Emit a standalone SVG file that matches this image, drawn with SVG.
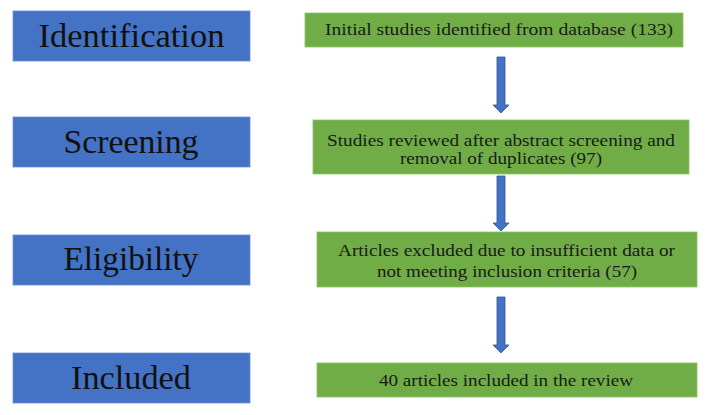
<svg xmlns="http://www.w3.org/2000/svg" width="710" height="415" viewBox="0 0 710 415">
<style>
.stage{fill:#4472C4;stroke:#6A8FD6;stroke-width:0.8}
.step{fill:#70AD47;stroke:#8CC26A;stroke-width:0.8}
.lbl{font-family:"Liberation Serif","DejaVu Serif",serif;font-size:34px;fill:#111;text-anchor:middle}
.txt{font-family:"Liberation Serif","DejaVu Serif",serif;font-size:16.5px;fill:#1a1a1a;text-anchor:middle}
.arrow{fill:#4472C4;stroke:#2F5597;stroke-width:0.8}
</style>
<rect width="710" height="415" fill="#fff"/>
<g id="identification"><rect class="stage" x="13" y="11" width="237" height="50"/><text class="lbl" x="131.5" y="47" textLength="186" lengthAdjust="spacingAndGlyphs">Identification</text></g>
<g id="screening"><rect class="stage" x="13" y="117" width="237" height="50"/><text class="lbl" x="131" y="153" textLength="135" lengthAdjust="spacingAndGlyphs">Screening</text></g>
<g id="eligibility"><rect class="stage" x="13" y="235" width="237" height="50"/><text class="lbl" x="131" y="270" textLength="135" lengthAdjust="spacingAndGlyphs">Eligibility</text></g>
<g id="included"><rect class="stage" x="13" y="353" width="237" height="50"/><text class="lbl" x="131" y="389" textLength="120" lengthAdjust="spacingAndGlyphs">Included</text></g>
<g id="initial"><rect class="step" x="305" y="13" width="378" height="34"/><text class="txt" x="499" y="35" textLength="348" lengthAdjust="spacingAndGlyphs">Initial studies identified from database (133)</text></g>
<g id="reviewed"><rect class="step" x="313" y="120" width="376" height="54"/><text class="txt" x="501" y="146" textLength="348" lengthAdjust="spacingAndGlyphs">Studies reviewed after abstract screening and</text><text class="txt" x="501" y="164" textLength="202" lengthAdjust="spacingAndGlyphs">removal of duplicates (97)</text></g>
<g id="excluded"><rect class="step" x="317" y="232" width="380" height="55"/><text class="txt" x="506.5" y="256" textLength="337" lengthAdjust="spacingAndGlyphs">Articles excluded due to insufficient data or</text><text class="txt" x="507" y="277" textLength="260" lengthAdjust="spacingAndGlyphs">not meeting inclusion criteria (57)</text></g>
<g id="final"><rect class="step" x="317" y="363" width="380" height="34"/><text class="txt" x="506" y="386" textLength="254" lengthAdjust="spacingAndGlyphs">40 articles included in the review</text></g>
<g id="connectors">
<path class="arrow" d="M497 57 H505 V105 H509 L501 113 L493 105 H497 Z"/>
<path class="arrow" d="M497 176 H505 V223 H509 L501 231 L493 223 H497 Z"/>
<path class="arrow" d="M497 297 H505 V345 H509 L501 353 L493 345 H497 Z"/>
</g>
</svg>
